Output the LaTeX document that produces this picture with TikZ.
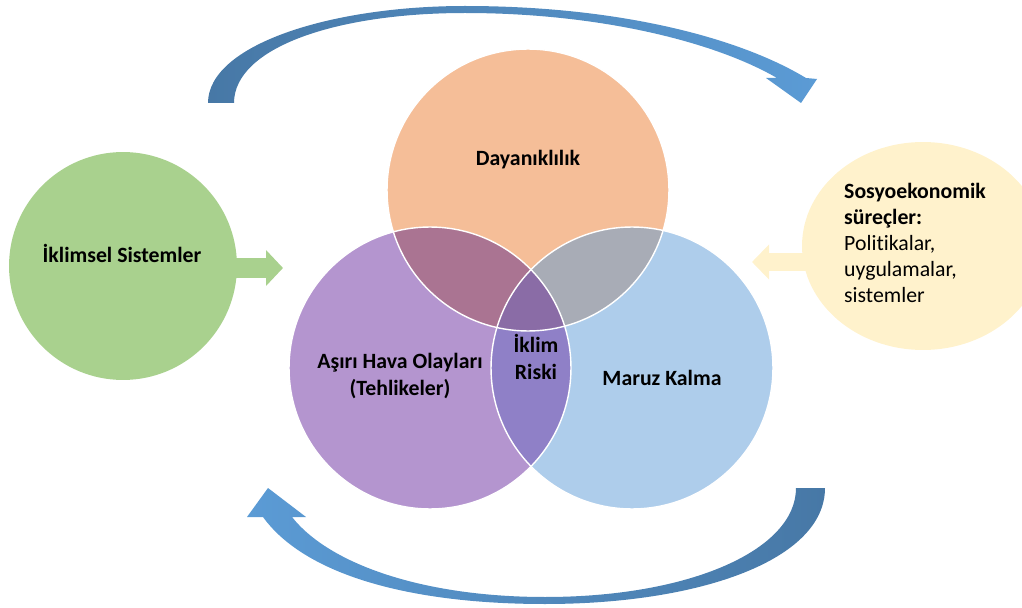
\documentclass[tikz,border=0pt]{standalone}
\usepackage{fontspec}
\setmainfont{Carlito}[Ligatures=NoCommon]
\usepackage{tikz}
\usetikzlibrary{arrows.meta,shapes.geometric}

\definecolor{dayanfill}{RGB}{245,190,152}
\definecolor{havafill}{RGB}{180,149,207}
\definecolor{maruzfill}{RGB}{174,205,235}
\definecolor{dayanhava}{RGB}{170,116,146}
\definecolor{dayanmaruz}{RGB}{168,172,182}
\definecolor{havamaruz}{RGB}{143,128,199}
\definecolor{riskfill}{RGB}{138,108,166}
\definecolor{iklimfill}{RGB}{169,209,142}
\definecolor{sosyofill}{RGB}{255,242,204}
\definecolor{arrowdark}{RGB}{71,120,166}
\definecolor{arrowlight}{RGB}{91,155,213}

\begin{document}
\begin{tikzpicture}[x=0.02cm, y=-0.02cm,
    txt/.style={font=\fontsize{12.4pt}{14.9pt}\selectfont},
    lbl/.style={font=\fontsize{12.4pt}{14.9pt}\selectfont\bfseries, align=center},
    venn/.style={circle, minimum size=5.64cm, inner sep=0pt},
    ring/.style={draw=white, line width=0.8pt}
]
    \useasboundingbox (0,0) rectangle (1022,608);

    % curved arrows
    \shade[left color=arrowdark, right color=arrowlight]
        (208,103) .. controls (208,45) and (330,6) .. (465,6)
        .. controls (620,6) and (740,38) .. (806,78)
        -- (817,79) -- (801,103) -- (766,78) -- (777,78)
        .. controls (715,42) and (600,13) .. (465,13)
        .. controls (335,13) and (234,48) .. (234,103) -- cycle;
    \shade[left color=arrowlight, right color=arrowdark]
        (825,488) .. controls (825,560) and (700,604) .. (545,604)
        .. controls (410,604) and (305,575) .. (263,517)
        -- (247,517) -- (268,488) -- (306,517) -- (292,517)
        .. controls (330,565) and (425,597) .. (545,597)
        .. controls (690,597) and (796,550) .. (796,488) -- cycle;

    % side circles and block arrows
    \node[circle, fill=iklimfill, minimum size=4.56cm, inner sep=0pt] (iklimsel) at (123,266) {};
    \node[ellipse, fill=sosyofill, minimum width=4.84cm, minimum height=4.16cm, inner sep=0pt] (sosyo) at (923,246) {};
    \coordinate (iklimtip) at (283,268);
    \coordinate (sosyotip) at (752,262);
    \draw[iklimfill, line width=0.4cm, -{Triangle[length=0.34cm, width=0.7cm]}]
        (iklimsel.center |- iklimtip) -- (iklimtip);
    \draw[sosyofill, line width=0.36cm, -{Triangle[length=0.34cm, width=0.68cm]}]
        (sosyo.center |- sosyotip) -- (sosyotip);

    % venn
    \node[venn, fill=dayanfill] (dayan) at (528,190) {};
    \node[venn, fill=havafill] (hava) at (430,368) {};
    \node[venn, fill=maruzfill] (maruz) at (632,368) {};
    \begin{scope}
        \clip (dayan.center) circle (2.82cm);
        \fill[dayanhava] (hava.center) circle (2.82cm);
        \fill[dayanmaruz] (maruz.center) circle (2.82cm);
    \end{scope}
    \begin{scope}
        \clip (hava.center) circle (2.82cm);
        \fill[havamaruz] (maruz.center) circle (2.82cm);
        \clip (dayan.center) circle (2.82cm);
        \fill[riskfill] (maruz.center) circle (2.82cm);
    \end{scope}
    \foreach \c in {dayan,hava,maruz}
        \draw[ring] (\c.center) circle (2.82cm);

    % labels
    \node[lbl] (dayantxt) at (528,160) {Dayanıklılık};
    \node[lbl] (havatxt) at (400,376) {Aşırı Hava Olayları\\(Tehlikeler)};
    \node[lbl] (risktxt) at (536,357) {İklim\\Riski};
    \node[lbl] (maruztxt) at (662,378) {Maruz Kalma};
    \node[lbl] (iklimseltxt) at (122,253) {İklimsel Sistemler};
    \node[txt, align=left, anchor=west] (sosyotxt) at (838,243)
        {\textbf{Sosyoekonomik}\\\textbf{süreçler:}\\Politikalar,\\uygulamalar,\\sistemler};
\end{tikzpicture}
\end{document}
